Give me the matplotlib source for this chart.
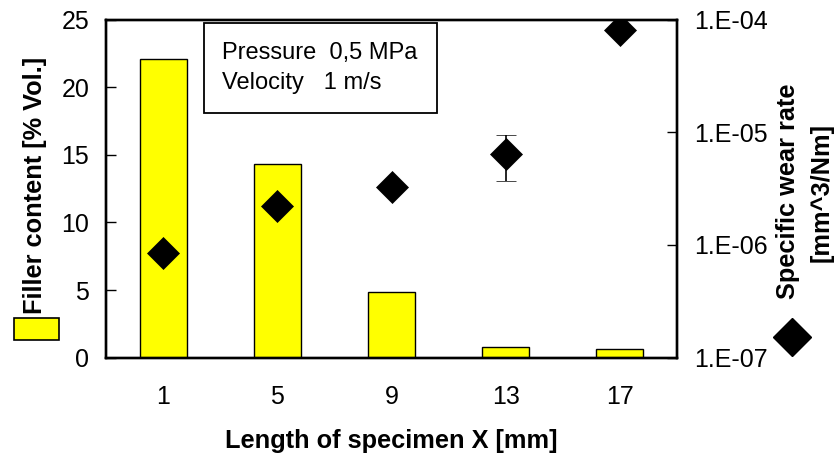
import matplotlib
matplotlib.use("Agg")
import matplotlib.pyplot as plt
from matplotlib.patches import Rectangle
from matplotlib.lines import Line2D
import numpy as np

plt.rcParams['font.family'] = ['Liberation Sans', 'DejaVu Sans']

lengths = ["1", "5", "9", "13", "17"]
filler = [22.1, 14.3, 4.85, 0.78, 0.64]
wear = [8.5e-7, 2.2e-6, 3.3e-6, 6.4e-6, 8.0e-5]
wear_err_low = [0, 0, 0, 2.7e-6, 0]
wear_err_high = [0, 0, 0, 3.0e-6, 0]
left_ticks = [0, 5, 10, 15, 20, 25]
right_ticks = [1e-7, 1e-6, 1e-5, 1e-4]
right_tick_labels = ["1.E-07", "1.E-06", "1.E-05", "1.E-04"]

W, H = 838, 455
fig = plt.figure(figsize=(W / 100, H / 100), dpi=100)
ax = fig.add_axes([106 / W, (H - 357.7) / H, (677 - 106) / W, (357.7 - 19.5) / H])
x = np.arange(len(lengths))

ax.bar(x, filler, width=0.41, color='#ffff00', edgecolor='black', linewidth=1.0, zorder=2)
ax.set_xlim(-0.5, len(lengths) - 0.5)
ax.set_ylim(0, 25)
ax.set_yticks(left_ticks)
ax.set_xticks(x)
ax.set_xticklabels(lengths)
ax.tick_params(axis='y', direction='in', length=7, width=1, labelsize=18, pad=12)
ax.tick_params(axis='x', length=0, labelsize=18, pad=20)
for s in ax.spines.values():
    s.set_linewidth(1.7)
ax.set_xlabel("Length of specimen X [mm]", fontsize=18.3, fontweight='bold', labelpad=14)

ax2 = ax.twinx()
ax2.set_yscale('log')
ax2.set_ylim(1e-7, 1e-4)
ax2.errorbar(x, wear, yerr=[wear_err_low, wear_err_high], fmt='D', color='black',
             markersize=16, markeredgewidth=0.5, ecolor='black', elinewidth=1.2,
             capsize=7, capthick=1.2, zorder=3)
ax2.set_yticks(right_ticks)
ax2.set_yticklabels(right_tick_labels)
ax2.yaxis.set_minor_locator(matplotlib.ticker.NullLocator())
ax2.tick_params(axis='y', direction='in', length=7, width=1, labelsize=18, pad=12)
for s in ax2.spines.values():
    s.set_linewidth(1.7)

# Axis titles (rotated)
fig.text(35 / W, 1 - 185 / H, "Filler content [% Vol.]", rotation=90, fontsize=18.3,
         fontweight='bold', ha='center', va='center')
fig.text(788 / W, 1 - 191 / H, "Specific wear rate", rotation=90, fontsize=18.3,
         fontweight='bold', ha='center', va='center')
fig.text(822 / W, 1 - 193 / H, "[mm^3/Nm]", rotation=90, fontsize=18.3,
         fontweight='bold', ha='center', va='center')

# Legend keys beside the axis titles
fig.patches.append(Rectangle((14 / W, 1 - 340 / H), 45 / W, 22 / H, transform=fig.transFigure,
                             facecolor='#ffff00', edgecolor='black', linewidth=1.2))
fig.lines.append(Line2D([792 / W], [1 - 337 / H], transform=fig.transFigure, marker='D',
                        markersize=19, color='black', linestyle='none'))

# Condition box
ax.text(0.204, 0.857, "Pressure  0,5 MPa\nVelocity   1 m/s", transform=ax.transAxes,
        fontsize=17, ha='left', va='center', linespacing=1.5, zorder=5,
        bbox=dict(boxstyle='square,pad=0.8', facecolor='white', edgecolor='black', linewidth=1.3))

fig.savefig("out.png", dpi=100)
